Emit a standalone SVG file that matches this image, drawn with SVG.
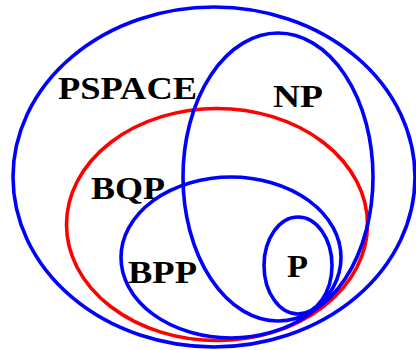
<svg xmlns="http://www.w3.org/2000/svg" width="416" height="350" viewBox="0 0 416 350">
<style>
.set{fill:none;stroke-width:3.6}
.blue{stroke:#0000ff}
.red{stroke:#ff0000}
.lbl{font-family:"Liberation Serif","DejaVu Serif",serif;font-weight:bold;font-size:31px;fill:#000}
</style>
<rect width="416" height="350" fill="#fff"/>
<g id="PSPACE"><ellipse class="set blue" cx="214" cy="177" rx="201" ry="170"/><text class="lbl" x="58" y="99" textLength="139" lengthAdjust="spacingAndGlyphs">PSPACE</text></g>
<g id="BQP"><ellipse class="set red" cx="217" cy="224.5" rx="150.5" ry="116"/><text class="lbl" x="91" y="199" textLength="74" lengthAdjust="spacingAndGlyphs">BQP</text></g>
<g id="NP"><ellipse class="set blue" cx="278" cy="177" rx="95" ry="144"/><text class="lbl" x="273" y="107" textLength="50" lengthAdjust="spacingAndGlyphs">NP</text></g>
<g id="BPP"><ellipse class="set blue" cx="231" cy="257.5" rx="110" ry="80.5"/><text class="lbl" x="128" y="283" textLength="69" lengthAdjust="spacingAndGlyphs">BPP</text></g>
<g id="P"><ellipse class="set blue" cx="298" cy="265.5" rx="34" ry="48.5"/><text class="lbl" x="287" y="277" textLength="21" lengthAdjust="spacingAndGlyphs">P</text></g>
<g id="connectors"/>
</svg>
